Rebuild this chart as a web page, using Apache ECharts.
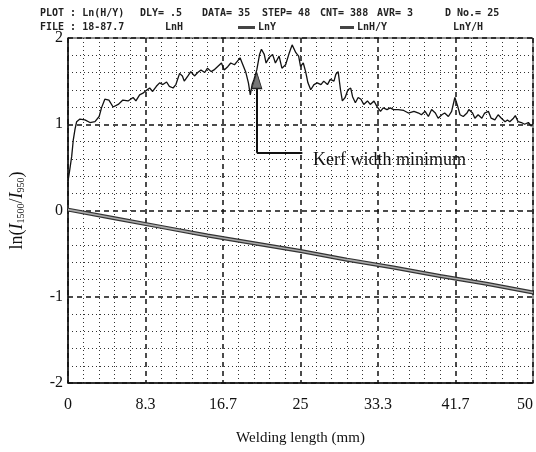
<!DOCTYPE html>
<html>
<head>
<meta charset="utf-8">
<script src="https://cdn.jsdelivr.net/npm/echarts@6/dist/echarts.min.js"></script>
<style>
  html, body { margin: 0; padding: 0; background: #fff; }
  #main { width: 536px; height: 452px; }
</style>
</head>
<body>
<div id="main"></div>
<script>
// upper trace: ln(I1500/I950) along the weld
const weldMm = [0.0,0.2,0.4,0.57,0.75,0.93,1.28,1.82,2.36,2.9,3.35,3.6,3.96,4.4,4.85,5.4,5.9,6.46,7.0,7.3,7.7,8.06,8.4,8.78,9.1,9.5,9.85,10.2,10.6,10.9,11.3,11.6,12.0,12.3,12.5,12.9,13.2,13.6,13.95,14.3,14.7,15.0,15.4,15.7,16.1,16.5,16.8,17.2,17.5,17.9,18.2,18.5,18.8,19.1,19.4,19.6,19.8,20.0,20.3,20.6,20.8,21.1,21.3,21.6,22.0,22.3,22.7,23.0,23.4,23.8,24.1,24.5,24.8,25.0,25.3,25.55,25.8,26.1,26.45,26.8,27.2,27.5,27.9,28.2,28.6,28.8,29.05,29.3,29.5,29.8,30.1,30.4,30.6,30.9,31.2,31.5,31.8,32.2,32.5,32.9,33.2,33.6,33.9,34.3,34.65,35.0,35.5,36.1,36.6,37.2,37.7,38.0,38.4,38.75,39.1,39.5,39.8,40.2,40.5,40.9,41.25,41.6,41.9,42.15,42.5,42.9,43.1,43.5,43.75,44.1,44.5,44.8,45.2,45.5,45.9,46.25,46.6,47.0,47.25,47.5,47.9,48.1,48.4,48.75,49.1,49.5,49.8,50.0];
const lnRatio = [0.34,0.48,0.63,0.82,0.94,1.03,1.06,1.05,1.02,1.03,1.09,1.19,1.29,1.28,1.20,1.23,1.28,1.27,1.31,1.27,1.34,1.36,1.39,1.42,1.38,1.44,1.48,1.46,1.49,1.44,1.42,1.46,1.59,1.56,1.50,1.56,1.61,1.56,1.60,1.63,1.60,1.65,1.61,1.63,1.67,1.71,1.63,1.67,1.71,1.69,1.73,1.77,1.69,1.61,1.48,1.34,1.46,1.52,1.63,1.81,1.87,1.81,1.71,1.77,1.81,1.71,1.79,1.65,1.69,1.83,1.92,1.83,1.79,1.67,1.71,1.61,1.48,1.40,1.46,1.48,1.46,1.50,1.46,1.52,1.50,1.58,1.61,1.40,1.27,1.31,1.40,1.42,1.32,1.25,1.31,1.29,1.23,1.27,1.23,1.27,1.21,1.15,1.19,1.17,1.19,1.17,1.17,1.16,1.13,1.15,1.13,1.11,1.15,1.09,1.17,1.13,1.07,1.11,1.13,1.09,1.15,1.31,1.21,1.11,1.09,1.13,1.17,1.13,1.07,1.11,1.07,1.13,1.15,1.07,1.05,1.11,1.07,1.03,1.05,1.03,1.07,1.10,1.03,1.02,1.00,1.02,0.98,1.00];

// lower trace
const lowerMm = [0,5,10,15,20,25,30,35,40,45,50];
const lowerVal = [0.01,-0.09,-0.19,-0.29,-0.38,-0.47,-0.57,-0.66,-0.76,-0.85,-0.95];

const xTickLabels = ['0','8.3','16.7','25','33.3','41.7','50'];

// annotation "Kerf width minimum"
const kerfX = 20.3;
const kerfTop = 1.60;
const kerfElbow = 0.67;
const kerfEnd = 25.2;
const kerfText = 'Kerf width minimum';
const kerfTextAt = [26.3, 0.58];

const upper = weldMm.map((x, i) => [x, lnRatio[i]]);
const lower = lowerMm.map((x, i) => [x, lowerVal[i]]);

const serif = '"Liberation Serif", "DejaVu Serif", serif';
const mono = '"DejaVu Sans Mono", "Liberation Mono", monospace';

const chart = echarts.init(document.getElementById('main'));

function headText(x, y, s) {
    return {
        type: 'text', left: x, top: y,
        style: { text: s, font: 'bold 10px ' + mono, fill: '#222' }
    };
}

const option = {
    backgroundColor: '#fff',
    animation: false,
    grid: { left: 68, right: 1, top: 38, bottom: 69, show: true, borderColor: '#222', borderWidth: 1 },
    xAxis: {
        type: 'value', min: 0, max: 50, interval: 50 / 6,
        name: 'Welding length (mm)', nameLocation: 'middle', nameGap: 48,
        nameTextStyle: { fontFamily: serif, fontSize: 15, color: '#111' },
        axisLine: { show: true, onZero: false, lineStyle: { color: '#111', width: 1.5 } },
        axisTick: { show: false },
        axisLabel: {
            fontFamily: serif, fontSize: 16, color: '#111', margin: 14,
            alignMaxLabel: 'right',
            formatter: v => xTickLabels[Math.round(v / (50 / 6))]
        },
        splitLine: { show: true, lineStyle: { color: '#111', type: [5, 4], width: 1.5 } },
        minorTick: { show: false, splitNumber: 5 },
        minorSplitLine: { show: true, lineStyle: { color: '#333', type: [1, 3], width: 1 } }
    },
    yAxis: {
        type: 'value', min: -2, max: 2, interval: 1,
        name: '{t|ln(}{i|I}{s|1500}{t|/}{i|I}{s|950}{t|)}',
        nameLocation: 'middle', nameGap: 42, nameRotate: 90,
        nameTextStyle: {
            rich: {
                t: { fontFamily: serif, fontSize: 18, color: '#111' },
                i: { fontFamily: serif, fontSize: 18, fontStyle: 'italic', color: '#111' },
                s: { fontFamily: serif, fontSize: 10, color: '#111', verticalAlign: 'bottom' }
            }
        },
        axisLine: { show: true, onZero: false, lineStyle: { color: '#111', width: 1.5 } },
        axisTick: { show: false },
        axisLabel: { fontFamily: serif, fontSize: 16, color: '#111', margin: 5 },
        splitLine: { show: true, lineStyle: { color: '#111', type: [5, 4], width: 1.5 } },
        minorTick: { show: false, splitNumber: 5 },
        minorSplitLine: { show: true, lineStyle: { color: '#333', type: [1, 3], width: 1 } }
    },
    graphic: [
        headText(40, 8, 'PLOT : Ln(H/Y)'),
        headText(140, 8, 'DLY= .5'),
        headText(202, 8, 'DATA= 35'),
        headText(262, 8, 'STEP= 48'),
        headText(320, 8, 'CNT= 388'),
        headText(377, 8, 'AVR= 3'),
        headText(445, 8, 'D No.= 25'),
        headText(40, 22, 'FILE : 18-87.7'),
        headText(165, 22, 'LnH'),
        { type: 'rect', shape: { x: 238, y: 26, width: 17, height: 3 }, style: { fill: '#444' } },
        headText(258, 22, 'LnY'),
        { type: 'rect', shape: { x: 340, y: 26, width: 14, height: 3 }, style: { fill: '#444' } },
        headText(357, 22, 'LnH/Y'),
        headText(453, 22, 'LnY/H')
    ],
    series: [
        {
            type: 'line', data: lower, showSymbol: false, silent: true,
            lineStyle: { color: '#333', width: 4 }
        },
        {
            type: 'line', data: lower, showSymbol: false, silent: true,
            lineStyle: { color: '#aaa', width: 1.6 }
        },
        {
            type: 'line', data: upper, showSymbol: false, silent: true,
            lineStyle: { color: '#111', width: 1.3 },
            markLine: {
                silent: true,
                animation: false,
                symbol: 'none',
                label: { show: false },
                lineStyle: { color: '#111', width: 2, type: 'solid' },
                data: [
                    [
                        { coord: [kerfX, kerfElbow] },
                        { coord: [kerfX, kerfTop - 0.15] }
                    ],
                    [
                        { coord: [kerfX, kerfElbow] },
                        { coord: [kerfEnd, kerfElbow] }
                    ]
                ]
            },
            markPoint: {
                silent: true,
                animation: false,
                data: [
                    {
                        coord: [kerfX, kerfTop],
                        symbol: 'triangle', symbolSize: [10, 16], symbolOffset: [0, '50%'],
                        itemStyle: { color: '#777', borderColor: '#222', borderWidth: 1 },
                        label: { show: false }
                    },
                    {
                        coord: kerfTextAt,
                        symbol: 'circle', symbolSize: 1,
                        itemStyle: { color: 'rgba(0,0,0,0)' },
                        label: {
                            show: true, position: 'right', distance: 0, formatter: kerfText,
                            fontFamily: serif, fontSize: 18, color: '#111'
                        }
                    }
                ]
            }
        }
    ]
};

chart.setOption(option);
</script>
</body>
</html>
